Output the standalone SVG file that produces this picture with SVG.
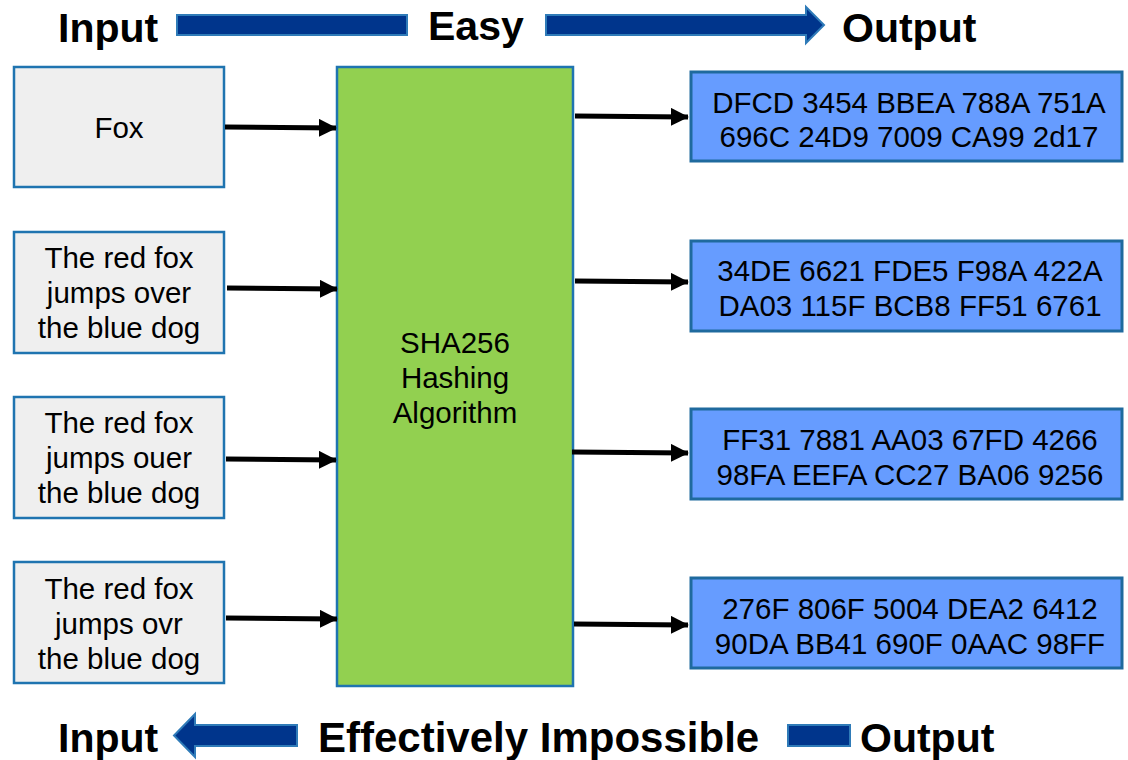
<svg xmlns="http://www.w3.org/2000/svg" width="1128" height="760" viewBox="0 0 1128 760">
  <defs>
    <style>
      .in { fill: #efefef; stroke: #1f74b0; stroke-width: 2.5; }
      .hash { fill: #92d050; stroke: #1f74b0; stroke-width: 2.5; }
      .out { fill: #669cff; stroke: #1f6a9e; stroke-width: 3; }
      .lbl { font-family: "Liberation Sans", Arial, sans-serif; font-size: 29.5px; fill: #000; text-anchor: middle; }
      .head { font-family: "Liberation Sans", Arial, sans-serif; font-size: 41px; font-weight: bold; fill: #000; }
      .big { fill: #00358c; stroke: #2f7bb8; stroke-width: 2; }
      .conn { stroke: #000; stroke-width: 5; fill: none; marker-end: url(#tip); }
    </style>
    <marker id="tip" viewBox="0 0 10 10" refX="9.5" refY="5" markerWidth="3.6" markerHeight="3.6" orient="auto" markerUnits="strokeWidth">
      <path d="M0,0 L10,5 L0,10 z" fill="#000"/>
    </marker>
  </defs>

  <rect width="1128" height="760" fill="#fff"/>

  <!-- top banner: Input -> Easy -> Output -->
  <g id="banner-top">
    <text class="head" x="58" y="42">Input</text>
    <rect class="big" x="177" y="15" width="230" height="20"/>
    <text class="head" x="428" y="40">Easy</text>
    <path class="big" d="M546,15 H806 V7 L824,25 L806,43 V35 H546 Z"/>
    <text class="head" x="842" y="42">Output</text>
  </g>

  <!-- bottom banner: Input <- Effectively Impossible - Output -->
  <g id="banner-bottom">
    <text class="head" x="58" y="752">Input</text>
    <path class="big" d="M297,725 H195 V714 L174,735.5 L195,757 V746 H297 Z"/>
    <text class="head" x="318" y="752" style="font-size:42px">Effectively Impossible</text>
    <rect class="big" x="788" y="725" width="62" height="21"/>
    <text class="head" x="860" y="752">Output</text>
  </g>

  <!-- inputs -->
  <g id="input-1">
    <rect class="in" x="14" y="67" width="210" height="120"/>
    <text class="lbl" x="119" y="138">Fox</text>
  </g>
  <g id="input-2">
    <rect class="in" x="14" y="232" width="210" height="121"/>
    <text class="lbl" x="119" y="268">The red fox</text>
    <text class="lbl" x="119" y="303">jumps over</text>
    <text class="lbl" x="119" y="338">the blue dog</text>
  </g>
  <g id="input-3">
    <rect class="in" x="14" y="397" width="210" height="121"/>
    <text class="lbl" x="119" y="433">The red fox</text>
    <text class="lbl" x="119" y="468">jumps ouer</text>
    <text class="lbl" x="119" y="503">the blue dog</text>
  </g>
  <g id="input-4">
    <rect class="in" x="14" y="562" width="210" height="121"/>
    <text class="lbl" x="119" y="599">The red fox</text>
    <text class="lbl" x="119" y="634">jumps ovr</text>
    <text class="lbl" x="119" y="669">the blue dog</text>
  </g>

  <!-- hashing block -->
  <g id="sha256">
    <rect class="hash" x="337" y="67" width="236" height="619"/>
    <text class="lbl" x="455" y="353">SHA256</text>
    <text class="lbl" x="455" y="388">Hashing</text>
    <text class="lbl" x="455" y="423">Algorithm</text>
  </g>

  <!-- outputs -->
  <g id="output-1">
    <rect class="out" x="691" y="72" width="431" height="89"/>
    <text class="lbl" x="909" y="113">DFCD 3454 BBEA 788A 751A</text>
    <text class="lbl" x="909" y="147">696C 24D9 7009 CA99 2d17</text>
  </g>
  <g id="output-2">
    <rect class="out" x="691" y="241" width="431" height="90"/>
    <text class="lbl" x="910" y="281">34DE 6621 FDE5 F98A 422A</text>
    <text class="lbl" x="910" y="316">DA03 115F BCB8 FF51 6761</text>
  </g>
  <g id="output-3">
    <rect class="out" x="691" y="409" width="431" height="90"/>
    <text class="lbl" x="910" y="450">FF31 7881 AA03 67FD 4266</text>
    <text class="lbl" x="910" y="485">98FA EEFA CC27 BA06 9256</text>
  </g>
  <g id="output-4">
    <rect class="out" x="691" y="578" width="431" height="90"/>
    <text class="lbl" x="910" y="619">276F 806F 5004 DEA2 6412</text>
    <text class="lbl" x="910" y="654">90DA BB41 690F 0AAC 98FF</text>
  </g>

  <!-- connectors -->
  <g id="connectors">
    <line class="conn" x1="225" y1="127" x2="336" y2="128"/>
    <line class="conn" x1="227" y1="288" x2="337" y2="289"/>
    <line class="conn" x1="226" y1="459" x2="336" y2="460"/>
    <line class="conn" x1="226" y1="618" x2="337" y2="619"/>
    <line class="conn" x1="575" y1="116" x2="688" y2="117"/>
    <line class="conn" x1="575" y1="281" x2="688" y2="282"/>
    <line class="conn" x1="572" y1="452" x2="688" y2="453"/>
    <line class="conn" x1="574" y1="624" x2="688" y2="625"/>
  </g>
</svg>
